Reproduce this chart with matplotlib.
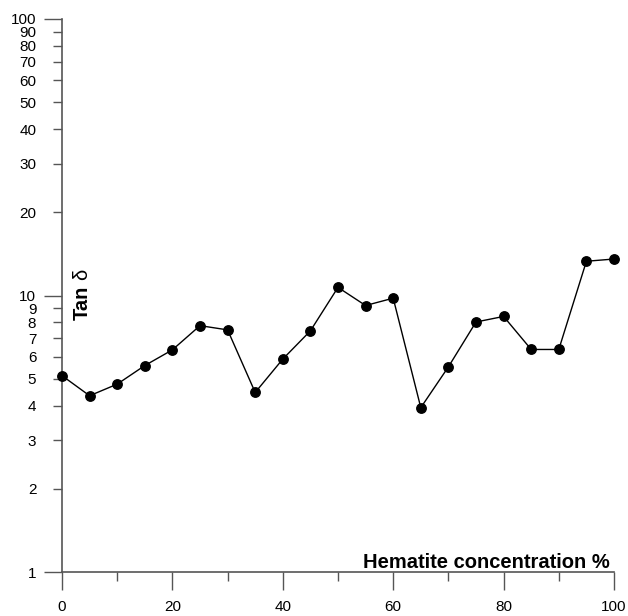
import matplotlib
matplotlib.use("Agg")
import matplotlib.pyplot as plt
from matplotlib.ticker import FixedLocator, NullFormatter

plt.rcParams['font.family'] = ['Liberation Sans', 'DejaVu Sans']

# Hematite concentration (%) and loss tangent
concentration = [0, 5, 10, 15, 20, 25, 30, 35, 40, 45, 50,
                 55, 60, 65, 70, 75, 80, 85, 90, 95, 100]
tan_delta = [5.13, 4.34, 4.78, 5.58, 6.36, 7.78, 7.51, 4.46, 5.89, 7.45, 10.7,
             9.20, 9.78, 3.93, 5.52, 8.02, 8.40, 6.38, 6.38, 13.3, 13.55]

x_major = [0, 20, 40, 60, 80, 100]
x_minor = [10, 30, 50, 70, 90]
y_major = [1, 10, 100]
y_minor = [2, 3, 4, 5, 6, 7, 8, 9, 20, 30, 40, 50, 60, 70, 80, 90]

W, H = 628, 616
fig = plt.figure(figsize=(W / 100, H / 100), dpi=100)
ax = fig.add_axes([62 / W, 1 - 572 / H, 552 / W, 553 / H])

ax.plot(concentration, tan_delta, color='black', linewidth=1.0,
        marker='o', markersize=6.8, markerfacecolor='black',
        markeredgecolor='black', clip_on=False, zorder=3)

ax.set_yscale('log')
ax.set_xlim(0, 100)
ax.set_ylim(1, 100)

ax.xaxis.set_major_locator(FixedLocator(x_major))
ax.xaxis.set_minor_locator(FixedLocator(x_minor))
ax.xaxis.set_minor_formatter(NullFormatter())
ax.set_xticklabels([str(v) for v in x_major])

ax.yaxis.set_major_locator(FixedLocator(y_major))
ax.yaxis.set_minor_locator(FixedLocator(y_minor))
ax.set_yticklabels([str(v) for v in y_major])
ax.set_yticklabels([str(v) for v in y_minor], minor=True)

spine_col = '#555555'
for side in ('top', 'right'):
    ax.spines[side].set_visible(False)
for side in ('left', 'bottom'):
    ax.spines[side].set_color(spine_col)
    ax.spines[side].set_linewidth(1.2)

ax.tick_params(which='major', direction='out', length=13, width=1.0,
               color=spine_col, labelsize=11, labelcolor='black')
ax.tick_params(which='minor', direction='out', length=6.5, width=1.0,
               color=spine_col, labelsize=11, labelcolor='black')
ax.tick_params(axis='x', which='major', pad=7)
ax.tick_params(axis='y', which='major', pad=5.5)
ax.tick_params(axis='y', which='minor', pad=12)

# y-axis caption: bold "Tan" followed by an upright regular delta
ax.text(82 / W, 1 - 320 / H, 'Tan', transform=fig.transFigure,
        rotation=90, ha='center', va='bottom', fontsize=14.5, fontweight='bold')
ax.text(82 / W, 1 - 280 / H, 'δ', transform=fig.transFigure,
        rotation=90, ha='center', va='bottom', fontsize=14.5)

ax.text(610 / W, 1 - 563 / H, 'Hematite concentration %',
        transform=fig.transFigure, ha='right', va='center',
        fontsize=14.5, fontweight='bold')

fig.savefig('out.png', dpi=100)
